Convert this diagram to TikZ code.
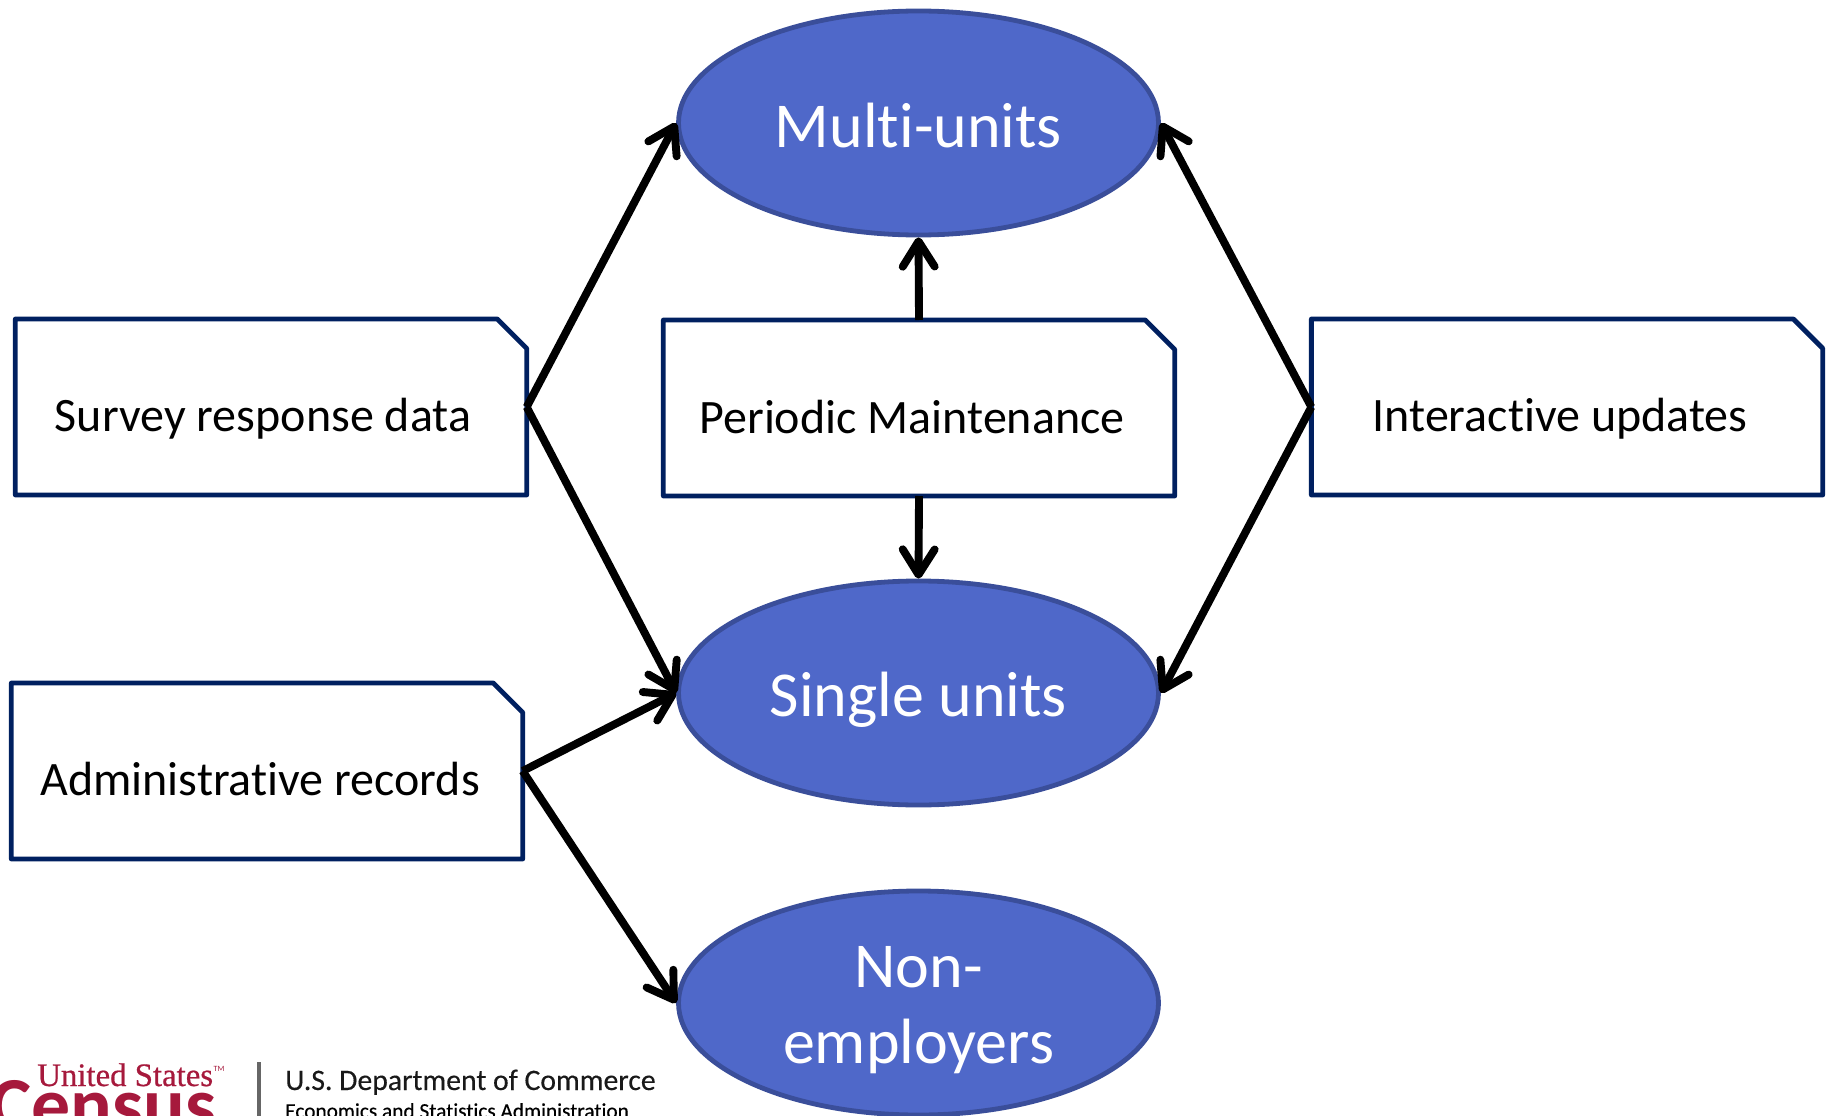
\documentclass[tikz,border=0pt]{standalone}
\usepackage{fontspec}
\setmainfont{Carlito}[Ligatures=NoCommon]
\newfontfamily\logoserif{Liberation Serif}[FakeBold=0.6]
\usetikzlibrary{shapes.geometric,arrows.meta}
\definecolor{navybox}{HTML}{002060}
\definecolor{ellfill}{HTML}{4F68C9}
\definecolor{elldraw}{HTML}{3A4E9A}
\definecolor{censusred}{HTML}{A6193C}
\newcommand{\dropby}[2]{\raisebox{-#1}[\height][\depth]{#2}}
\tikzset{
  x=0.75pt,y=-0.75pt,
  unitell/.style={ellipse,draw=elldraw,fill=ellfill,line width=3.6pt,minimum width=360pt,minimum height=168pt,inner sep=0pt,text=white,font=\fontsize{48}{57}\selectfont,align=center},
  srcbox/.style={rectangle,draw=none,outer sep=0pt,inner sep=0pt,minimum width=383.5pt,minimum height=132pt},
  srcoutline/.style={draw=navybox,line width=3.6pt,line join=round},
  srctext/.style={inner sep=0pt,font=\fontsize{36}{42}\selectfont,text=black},
  flow/.style={line width=5.9pt,draw=black,-{Straight Barb[length=19pt,width=24pt,line width=5.9pt,round]}},
}
\begin{document}
\begin{tikzpicture}
\useasboundingbox (0,0) rectangle (1830,1116);
\clip (0,0) rectangle (1830,1116);
\node[unitell] (multi) at (918.5,123) {\dropby{1.75pt}{Multi-units}};
\node[unitell] (single) at (918.5,693) {\dropby{5.25pt}{Single units}};
\node[unitell] (nonemp) at (918.5,1003) {\dropby{5.25pt}{Non-}\\\dropby{5.25pt}{employers}};
\node[srcbox] (survey) at (271,407) {};
\node[srcbox] (periodic) at (919,408) {};
\node[srcbox] (interactive) at (1567,407) {};
\node[srcbox] (admin) at (267,771) {};
\foreach \n in {survey,periodic,interactive,admin}
  \draw[srcoutline] (\n.north west) -- ([xshift=-22pt]\n.north east) -- ([yshift=-22pt]\n.north east) -- (\n.south east) -- (\n.south west) -- cycle;
\node[srctext] (surveyt) at (263,418.5) {Survey response data};
\node[srctext] (periodict) at (912,417) {Periodic Maintenance};
\node[srctext] (interactivet) at (1560,418.5) {Interactive updates};
\node[srctext] (admint) at (260,779) {Administrative records};
\draw[flow] (survey.east) -- (multi.west);
\draw[flow] (survey.east) -- (single.west);
\draw[flow] (periodic.north) -- (multi.south);
\draw[flow] (periodic.south) -- (single.north);
\draw[flow] (interactive.west) -- (multi.east);
\draw[flow] (interactive.west) -- (single.east);
\draw[flow] (admin.east) -- (single.west);
\draw[flow] (admin.east) -- (nonemp.west);
% logo
\node[inner sep=0pt,text=censusred,anchor=base west,font=\logoserif\fontsize{24.6}{26}\selectfont] (logoa) at (37,1086) {United States};
\node[inner sep=0pt,text=censusred,font=\fontsize{6}{7}\selectfont] (logotm) at (219,1069) {TM};
\node[inner sep=0pt,text=censusred,anchor=base west,font=\fontsize{58.4}{62}\selectfont\bfseries] (logob) at (-10,1131) {Census};
\draw[gray!80!black,line width=2.4pt] (259,1062) -- (259,1116);
\node[inner sep=0pt,anchor=base west,text=black!90,font=\fontsize{22.3}{24}\selectfont\addfontfeatures{FakeBold=0.3}] (logoc) at (285,1090) {U.S. Department of Commerce};
\node[inner sep=0pt,anchor=base west,text=black,font=\fontsize{16}{18}\selectfont\addfontfeatures{FakeBold=0.3}] (logod) at (285,1118) {Economics and Statistics Administration};
\end{tikzpicture}
\end{document}
